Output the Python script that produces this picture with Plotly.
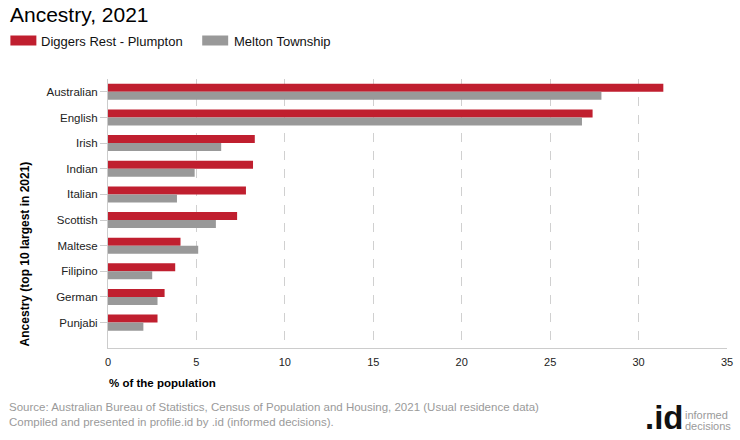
import plotly.graph_objects as go

categories = ["Australian", "English", "Irish", "Indian", "Italian",
              "Scottish", "Maltese", "Filipino", "German", "Punjabi"]
series_names = ["Diggers Rest - Plumpton", "Melton Township"]
diggers_rest = [31.4, 27.4, 8.3, 8.2, 7.8, 7.3, 4.1, 3.8, 3.2, 2.8]
melton = [27.9, 26.8, 6.4, 4.9, 3.9, 6.1, 5.1, 2.5, 2.8, 2.0]
x_ticks = [0, 5, 10, 15, 20, 25, 30, 35]

RED = "#C01F2F"
GREY = "#999999"
FONT = "Arial, Liberation Sans, sans-serif"
NARROW = "Liberation Sans Narrow, Arial Narrow, Arial, sans-serif"

W, H = 740, 440
L, R, T, B = 107.7, 12.7, 79, 92
PW = W - L - R
PH = H - T - B


def px(x):
    return (x - L) / PW


def py(y):
    return 1 - (y - T) / PH


fig = go.Figure()
fig.add_trace(go.Bar(y=categories, x=diggers_rest, name=series_names[0],
                     orientation="h", marker=dict(color=RED, line=dict(width=0)),
                     showlegend=False))
fig.add_trace(go.Bar(y=categories, x=melton, name=series_names[1],
                     orientation="h", marker=dict(color=GREY, line=dict(width=0)),
                     showlegend=False))

annotations = []
shapes = []

# Legend (manual swatches)
legend_items = [(series_names[0], RED, 10, 36, 39), (series_names[1], GREY, 202, 228, 232)]
for name, col, x0, x1, tx in legend_items:
    shapes.append(dict(type="rect", xref="paper", yref="paper",
                       x0=px(x0), x1=px(x1), y0=py(45.5), y1=py(35.5),
                       fillcolor=col, line=dict(width=0)))
    annotations.append(dict(text=name, xref="paper", yref="paper", x=px(tx), y=py(41),
                            xanchor="left", yanchor="middle", showarrow=False,
                            font=dict(family=FONT, size=13, color="#111111")))

# Y axis title
annotations.append(dict(text="<b>Ancestry (top 10 largest in 2021)</b>", xref="paper", yref="paper",
                        x=px(25), y=py(254), textangle=-90, xanchor="center", yanchor="middle",
                        showarrow=False, font=dict(family=FONT, size=12, color="#000000")))
# X axis title
annotations.append(dict(text="<b>% of the population</b>", xref="paper", yref="paper",
                        x=px(107), y=py(383), xanchor="left", yanchor="middle",
                        showarrow=False, font=dict(family=FONT, size=11.5, color="#000000")))
# Source
annotations.append(dict(text="Source: Australian Bureau of Statistics, Census of Population and Housing, 2021 (Usual residence data)<br>Compiled and presented in profile.id by .id (informed decisions).",
                        xref="paper", yref="paper", x=px(7), y=py(414.5), xanchor="left", yanchor="middle",
                        align="left", showarrow=False,
                        font=dict(family=FONT, size=11.5, color="#9a9a9a")))
# Logo
annotations.append(dict(text="<b>.id</b>", xref="paper", yref="paper", x=px(686), y=py(417),
                        xanchor="right", yanchor="middle", showarrow=False,
                        font=dict(family="Liberation Sans, Arial, sans-serif", size=33,
                                  weight=900, color="#111111")))
annotations.append(dict(text="informed", xref="paper", yref="paper", x=px(683), y=py(415),
                        xanchor="left", yanchor="middle", showarrow=False,
                        font=dict(family=NARROW, size=11, color="#9a9a9a")))
annotations.append(dict(text="decisions", xref="paper", yref="paper", x=px(683), y=py(426),
                        xanchor="left", yanchor="middle", showarrow=False,
                        font=dict(family=NARROW, size=11, color="#9a9a9a")))

fig.update_layout(
    width=W, height=H,
    margin=dict(l=L, r=R, t=T, b=B, pad=0, autoexpand=False),
    paper_bgcolor="white", plot_bgcolor="white",
    barmode="group", bargap=0.375, bargroupgap=0,
    font=dict(family=FONT, size=11, color="#222222"),
    title=dict(text="Ancestry, 2021", xref="container", yref="container",
               x=10 / W, y=1 - 15 / H, xanchor="left", yanchor="middle",
               font=dict(family=FONT, size=21, color="#000000")),
    annotations=annotations,
    shapes=shapes,
    xaxis=dict(range=[0, 35], tickvals=x_ticks, ticktext=[str(v) for v in x_ticks],
               automargin=False,
               showgrid=True, gridcolor="#d0d0d0", griddash="dash", gridwidth=1,
               zeroline=False, showline=True, linecolor="#cccccc", linewidth=1,
               ticks="outside", ticklen=4, tickcolor="rgba(0,0,0,0)",
               tickfont=dict(family=FONT, size=11, color="#222222")),
    yaxis=dict(type="category", categoryorder="array", categoryarray=categories,
               automargin=False,
               range=[9.99, -0.5], showgrid=False, zeroline=False,
               showline=True, linecolor="#cccccc", linewidth=1,
               ticks="outside", ticklen=7, tickcolor="#cccccc",
               tickfont=dict(family=FONT, size=11.5, color="#222222")),
)

fig.write_html("out.html", config={"displayModeBar": False},
               post_script="document.body.style.margin='0';document.body.style.overflow='hidden';")
